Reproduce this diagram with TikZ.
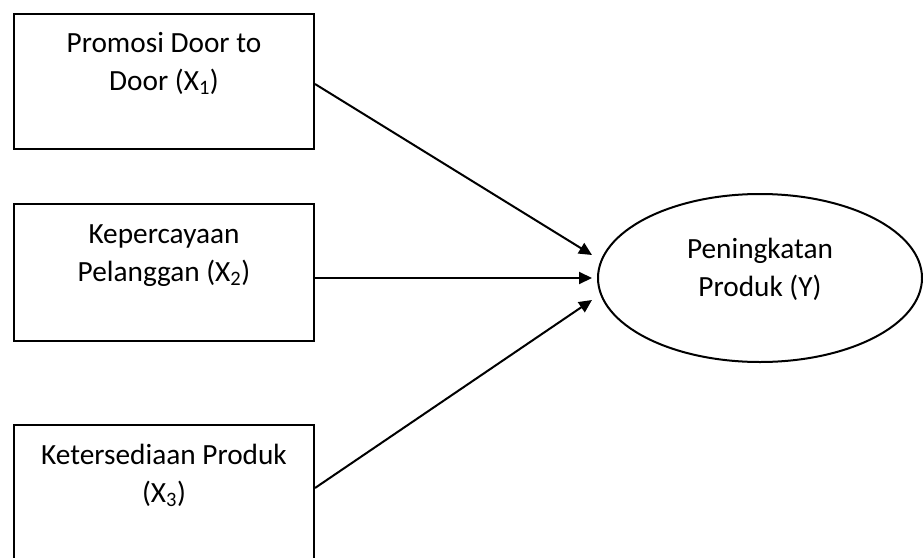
\documentclass[tikz,border=0pt]{standalone}
\usepackage{fontspec}
\setmainfont{Carlito}
\usetikzlibrary{arrows.meta,shapes.geometric,calc}
\begin{document}
\begin{tikzpicture}[x=1pt,y=-1pt,
  box/.style={draw, line width=2pt, minimum width=300pt, minimum height=135pt, inner sep=0pt, anchor=north west},
  ell/.style={draw, ellipse, line width=2pt, minimum width=324pt, minimum height=168pt, inner sep=0pt},
  txt/.style={align=center, inner sep=0pt, font=\fontsize{29.3}{38}\selectfont, anchor=north},
  arr/.style={line width=2pt, -{Triangle[length=13pt,width=12pt]}}]
\useasboundingbox (0,0) rectangle (923,557);
\node[box] (b1) at (13,13) {};
\node[box, minimum height=137pt] (b2) at (13,203) {};
\node[box, minimum height=136pt] (b3) at (13,424) {};
\node[ell] (Y) at (760,278) {};
\node[txt] (t1) at ([yshift=-12.4pt]b1.north) {\strut Promosi Door to\\Door (X\textsubscript{1})};
\node[txt] (t2) at ([yshift=-13.4pt]b2.north) {\strut Kepercayaan\\Pelanggan (X\textsubscript{2})};
\node[txt] (t3) at ([yshift=-13.4pt]b3.north) {\strut Ketersediaan Produk\\(X\textsubscript{3})};
\node[txt] (ty) at ([yshift=46.6pt]Y.center) {\strut Peningkatan\\Produk (Y)};
\draw[arr] ($(b1.east)+(0,2.5)$) -- ($(Y.west)+(-5,-23)$);
\draw[arr] (b2.east |- Y.west) -- ($(Y.west)+(-5,0)$);
\draw[arr] ($(b3.east)+(0,-5)$) -- ($(Y.west)+(-5,22)$);
\end{tikzpicture}
\end{document}
